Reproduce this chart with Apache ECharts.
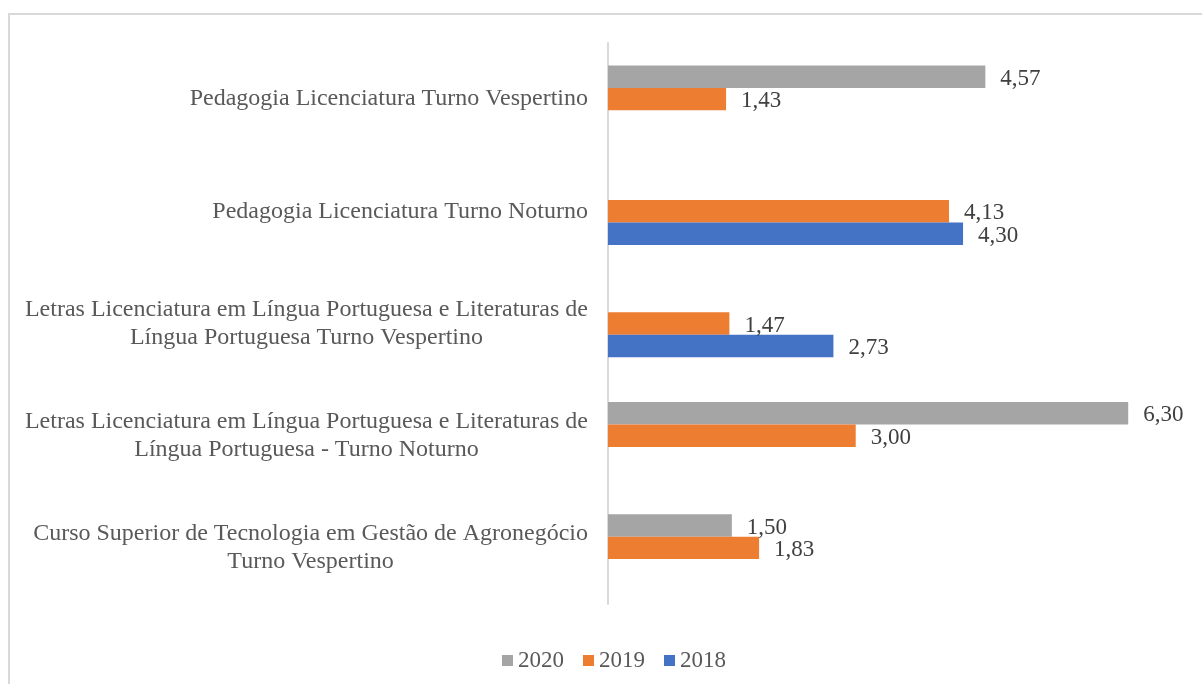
<!DOCTYPE html>
<html>
<head>
<meta charset="utf-8">
<script src="https://cdn.jsdelivr.net/npm/echarts@6/dist/echarts.min.js"></script>
<style>
  html, body { margin: 0; padding: 0; background: #fff; }
  #main { width: 1202px; height: 684px; }
</style>
</head>
<body>
<div id="main"></div>
<script>
var dom = document.getElementById('main');
var chart = echarts.init(dom);

// categories, bottom to top (category axis starts at the bottom)
var cursos = [
    'Curso Superior de Tecnologia em Gestão de Agronegócio\nTurno Vespertino',
    'Letras Licenciatura em Língua Portuguesa e Literaturas de\nLíngua Portuguesa - Turno Noturno',
    'Letras Licenciatura em Língua Portuguesa e Literaturas de\nLíngua Portuguesa Turno Vespertino',
    'Pedagogia Licenciatura Turno Noturno',
    'Pedagogia Licenciatura Turno Vespertino'
];
var valores2018 = [null, null, 2.73, 4.30, null];
var valores2019 = [1.83, 3.00, 1.47, 4.13, 1.43];
var valores2020 = [1.50, 6.30, null, null, 4.57];

var fonte = "'Liberation Serif', 'Times New Roman', serif";
var cores = { '2018': '#4472c4', '2019': '#ed7d31', '2020': '#a5a5a5' };

function serie(nome, dados) {
    return {
        name: nome,
        type: 'bar',
        data: dados,
        barGap: '0%',
        barCategoryGap: '40%',
        itemStyle: { color: cores[nome] },
        label: {
            show: true,
            position: 'right',
            distance: 15,
            offset: [0, 2],
            fontFamily: fonte,
            fontSize: 23,
            color: '#404040',
            formatter: function (p) {
                return p.value == null ? '' : p.value.toFixed(2).replace('.', ',');
            }
        }
    };
}

chart.setOption({
    animation: false,
    graphic: [{
        type: 'rect',
        shape: { x: 9, y: 14, width: 1400, height: 900 },
        style: { fill: 'none', stroke: '#d9d9d9', lineWidth: 2 },
        silent: true
    }],
    legend: {
        data: ['2020', '2019', '2018'],
        left: 497,
        top: 644,
        icon: 'rect',
        itemWidth: 11,
        itemHeight: 11,
        itemGap: 19,
        textStyle: { fontFamily: fonte, fontSize: 23, color: '#595959' }
    },
    grid: { left: 608, right: 16, top: 43, bottom: 80, containLabel: false },
    xAxis: {
        type: 'value',
        min: 0,
        max: 7,
        show: false
    },
    yAxis: {
        type: 'category',
        data: cursos,
        axisLine: { show: true, lineStyle: { color: '#d9d9d9', width: 2 } },
        axisTick: { show: false },
        splitLine: { show: false },
        axisLabel: {
            interval: 0,
            margin: 20,
            color: '#595959',
            fontFamily: fonte,
            fontSize: 24,
            formatter: function (v) {
                return v.split('\n').map(function (l) { return '{c|' + l + '}'; }).join('\n');
            },
            rich: {
                c: { align: 'center', fontFamily: fonte, fontSize: 24, color: '#595959', lineHeight: 28 }
            }
        }
    },
    // first series sits at the top of each group
    series: [
        serie('2020', valores2020),
        serie('2019', valores2019),
        serie('2018', valores2018)
    ]
});
</script>
</body>
</html>
